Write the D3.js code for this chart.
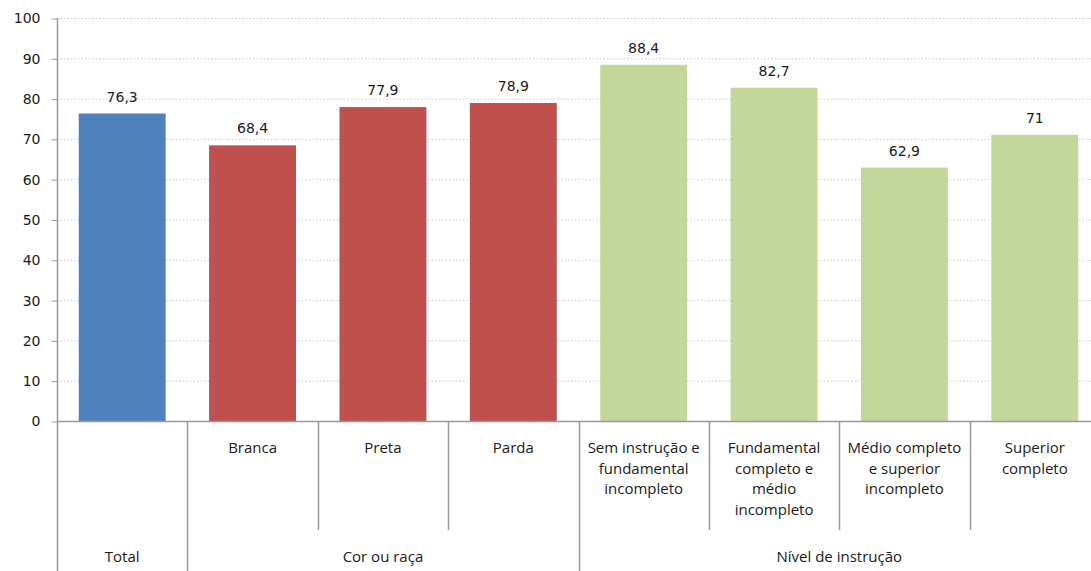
<!DOCTYPE html>
<html><head><meta charset="utf-8">
<script src="https://cdn.jsdelivr.net/npm/d3@7"></script>
<style>body{margin:0;background:#fff}svg{display:block}</style>
</head><body>
<svg id="c" width="1091" height="571"></svg>
<script>
const categories = ["Total","Branca","Preta","Parda","Sem instrução e|fundamental|incompleto","Fundamental|completo e|médio|incompleto","Médio completo|e superior|incompleto","Superior|completo"];
const values = [76.3, 68.4, 77.9, 78.9, 88.4, 82.7, 62.9, 71];
const labels = ["76,3","68,4","77,9","78,9","88,4","82,7","62,9","71"];
const groups = ["Total","Cor ou raça","Cor ou raça","Cor ou raça","Nível de instrução","Nível de instrução","Nível de instrução","Nível de instrução"];
const colors = ["#4F81BD","#C0504D","#C0504D","#C0504D","#C4D79B","#C4D79B","#C4D79B","#C4D79B"];
const yTicks = [0,10,20,30,40,50,60,70,80,90,100];

const svg = d3.select("#c");
const x0 = 57, x1 = 1100, yTop = 18, yBot = 421, H = 571;
const x = d3.scaleBand().domain(d3.range(categories.length)).range([x0, x1]).paddingInner(1/3).paddingOuter(1/6);
const y = d3.scaleLinear().domain([0,100]).range([yBot, yTop]);
const step = x.step();

// gridlines
svg.append("g").selectAll("line").data(yTicks.filter(d=>d>0)).join("line")
  .attr("x1", x0).attr("x2", 1091).attr("y1", d=>y(d)+0.5).attr("y2", d=>y(d)+0.5)
  .attr("stroke", "#c8c8c8").attr("stroke-dasharray", "1.5,2");

// bars
svg.append("g").selectAll("rect").data(values).join("rect")
  .attr("x", (d,i)=>x(i)).attr("width", x.bandwidth())
  .attr("y", d=>y(d)).attr("height", d=>yBot - y(d))
  .attr("fill", (d,i)=>colors[i]);

// value labels
svg.append("g").selectAll("text").data(values).join("text")
  .attr("x", (d,i)=>x(i)+x.bandwidth()/2).attr("y", d=>y(d)-12)
  .attr("text-anchor","middle").attr("font-family","DejaVu Sans, Verdana, sans-serif")
  .attr("font-size","14px").attr("fill","#1a1a1a").text((d,i)=>labels[i]);

// y axis
const yAxis = d3.axisLeft(y).tickValues(yTicks).tickSize(6).tickPadding(10);
const ga = svg.append("g").attr("transform", `translate(${x0+0.5},0.5)`).call(yAxis);
ga.select(".domain").remove();
ga.selectAll(".tick line").attr("stroke","#999");
ga.selectAll(".tick text").attr("font-family","DejaVu Sans, Verdana, sans-serif").attr("font-size","14px").attr("fill","#1a1a1a").attr("x",-17);

// axis lines
svg.append("line").attr("x1", x0+0.5).attr("x2", x0+0.5).attr("y1", yTop).attr("y2", H).attr("stroke","#999").attr("stroke-width",1.5);
svg.append("line").attr("x1", x0).attr("x2", 1091).attr("y1", yBot+0.5).attr("y2", yBot+0.5).attr("stroke","#999").attr("stroke-width",1.5);

// separators
for (let i = 1; i <= categories.length; i++) {
  const xs = x0 + i*step;
  const major = i === categories.length || groups[i] !== groups[i-1];
  svg.append("line").attr("x1", Math.round(xs)+0.5).attr("x2", Math.round(xs)+0.5)
    .attr("y1", yBot).attr("y2", major ? H : 530).attr("stroke","#999").attr("stroke-width",1.5);
}

// category labels
const cl = svg.append("g").attr("font-family","Open Sans, sans-serif").attr("font-size","15px").attr("fill","#1a1a1a").attr("text-anchor","middle");
categories.forEach((c,i)=>{
  if (i === 0) return;
  const t = cl.append("text").attr("x", x(i)+x.bandwidth()/2).attr("y", 453);
  c.split("|").forEach((ln,j)=>t.append("tspan").attr("x", x(i)+x.bandwidth()/2).attr("dy", j?20.6:0).text(ln));
});

// group labels
const uniq = [];
groups.forEach((g,i)=>{ const last = uniq[uniq.length-1]; if (last && last.g===g) last.end=i; else uniq.push({g, start:i, end:i}); });
uniq.forEach(u=>{
  const cx = x0 + (u.start + (u.end+1))/2*step;
  cl.append("text").attr("x", cx).attr("y", 562).text(u.g);
});
</script>
</body></html>
